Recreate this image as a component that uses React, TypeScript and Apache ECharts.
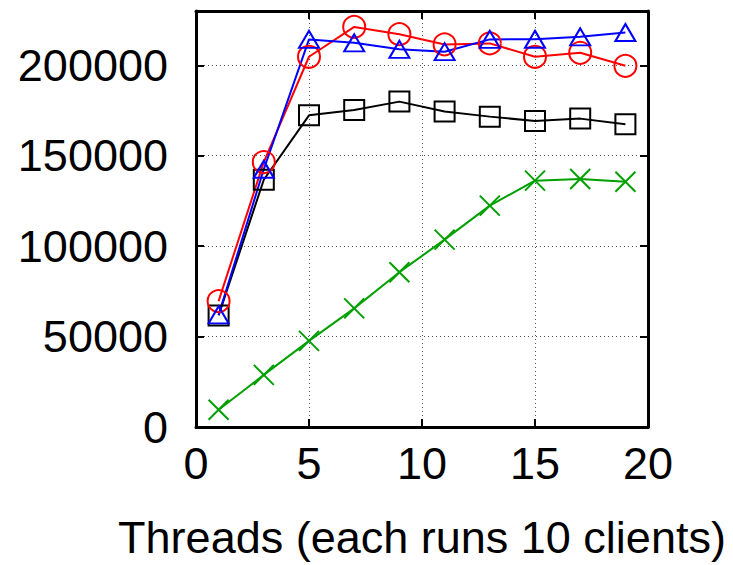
import React, { useEffect, useRef } from "react";
import * as echarts from "echarts";

const xValues = [1, 3, 5, 7, 9, 11, 13, 15, 17, 19];
const redValues = [69600, 146500, 204700, 221200, 217200, 211500, 212100, 204700, 206900, 199700];
const blueValues = [62000, 142500, 214300, 212400, 208800, 207500, 214300, 214400, 215700, 218100];
const blackValues = [61700, 136700, 172300, 175300, 179900, 174400, 171600, 169200, 170500, 167400];
const greenValues = [9500, 28800, 47600, 65600, 85600, 103600, 122400, 136200, 137100, 135600];
const xAxisTitle = "Threads (each runs 10 clients)";

const FONT = "'Liberation Sans', Arial, Helvetica, sans-serif";

function pairs(vals: number[]) {
  return xValues.map((x, i) => [x, vals[i]]);
}

export default function App() {
  const ref = useRef<HTMLDivElement>(null);
  useEffect(() => {
    if (!ref.current) return;
    const chart = echarts.init(ref.current, null, { renderer: "svg" });
    const axisLine = { show: true, onZero: false, lineStyle: { color: "#000", width: 3 } };
    const axisTick = { show: true, inside: true, length: 8, lineStyle: { color: "#000", width: 2 } };
    const splitLine = { show: true, lineStyle: { color: "#555", width: 1, type: [1, 3] as any } };
    const mk = (name: string, vals: number[], color: string, symbol: string, size: any) => ({
      name,
      type: "line",
      data: pairs(vals),
      symbol,
      symbolSize: size,
      showAllSymbol: true,
      lineStyle: { color, width: 2 },
      itemStyle: { color: "transparent", borderColor: color, borderWidth: 2 },
      emphasis: { disabled: true },
    });
    chart.setOption({
      animation: false,
      backgroundColor: "#fff",
      grid: { left: 196, right: 85, top: 11, bottom: 137 },
      xAxis: [
        {
          type: "value",
          min: 0,
          max: 20,
          interval: 5,
          position: "bottom",
          axisLine,
          axisTick,
          splitLine,
          axisLabel: { color: "#000", fontSize: 45, fontFamily: FONT, margin: 14 },
          name: xAxisTitle,
          nameLocation: "middle",
          nameGap: 88,
          nameTextStyle: { color: "#000", fontSize: 45, fontFamily: FONT },
        },
        {
          type: "value",
          min: 0,
          max: 20,
          interval: 5,
          position: "top",
          axisLine,
          axisTick,
          splitLine: { show: false },
          axisLabel: { show: false },
        },
      ],
      yAxis: [
        {
          type: "value",
          min: 0,
          max: 230000,
          interval: 50000,
          position: "left",
          axisLine,
          axisTick,
          splitLine,
          axisLabel: {
            color: "#000",
            fontSize: 45,
            fontFamily: FONT,
            margin: 28,
            showMaxLabel: false,
            formatter: (v: number) => String(v),
          },
        },
        {
          type: "value",
          min: 0,
          max: 230000,
          interval: 50000,
          position: "right",
          axisLine,
          axisTick,
          splitLine: { show: false },
          axisLabel: { show: false },
        },
      ],
      series: [
        mk("black", blackValues, "#000000", "rect", 20),
        mk("red", redValues, "#ff0000", "circle", 22),
        mk("blue", blueValues, "#0000ff", "triangle", [20, 17]),
        mk("green", greenValues, "#00a000", "path://M0,0L10,10M10,0L0,10", 20),
      ],
    });
    return () => chart.dispose();
  }, []);
  return (
    <div
      ref={ref}
      style={{ position: "fixed", left: 0, top: 0, width: 733, height: 565 }}
    />
  );
}
